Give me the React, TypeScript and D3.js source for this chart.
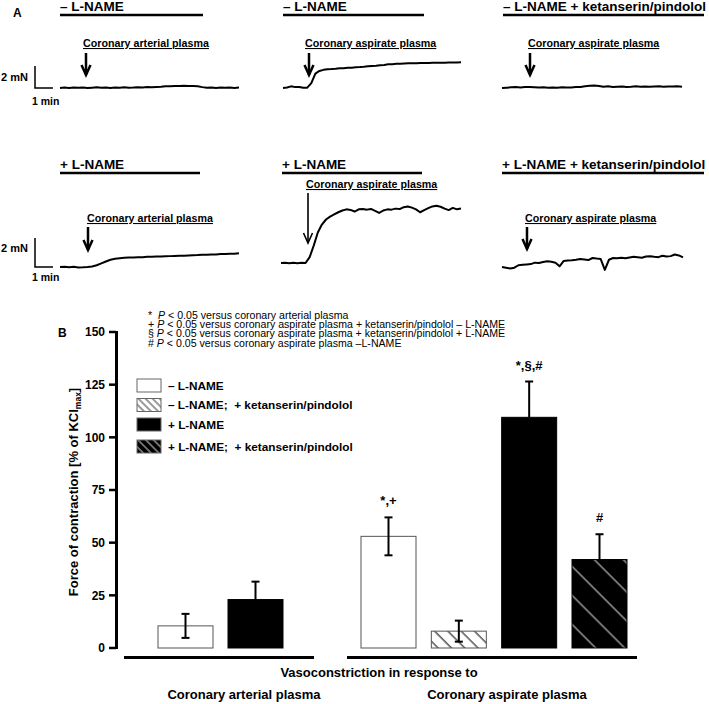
import React from 'react';
import * as d3 from 'd3';

const FONT = '"Liberation Sans", Arial, Helvetica, sans-serif';

// ---------- Panel A: isometric tension traces (mN, relative to start; evenly spaced samples) ----------
const traceMinusArterial = [0, 0.04, 0.01, 0.05, 0.02, 0.04, 0, 0.03, 0.06, 0.02, 0.04, 0.01, 0.05, 0.03, 0.06, 0.02, 0.04, 0.07, 0.05, 0.08, 0.07, 0.1, 0.12, 0.15, 0.17, 0.18, 0.19, 0.2, 0.19, 0.18, 0.16, 0.08, 0.02, 0.05, 0.01, 0.04, 0.02, 0.05, 0.01, 0.04];
const traceMinusAspirate = [0, 0.05, 0.15, 0.08, 0.1, 0.02, 0.03, 0.45, 1.3, 1.55, 1.65, 1.7, 1.72, 1.75, 1.79, 1.8, 1.83, 1.85, 1.88, 1.9, 1.93, 1.97, 2.0, 2.03, 2.07, 2.1, 2.15, 2.17, 2.2, 2.2, 2.22, 2.24, 2.25, 2.26, 2.27, 2.28, 2.27, 2.29, 2.3, 2.29, 2.3, 2.31, 2.32, 2.32, 2.33];
const traceMinusAspirateKP = [0, 0.03, 0.06, 0.08, 0.05, 0.08, 0.1, 0.07, 0.04, 0.06, 0.02, 0.04, 0.03, 0.06, 0.04, 0.05, 0.08, 0.1, 0.15, 0.2, 0.22, 0.18, 0.12, 0.15, 0.1, 0.12, 0.14, 0.1, 0.12, 0.15, 0.12, 0.14, 0.11, 0.13, 0.15, 0.12, 0.14, 0.13, 0.15, 0.12];
const tracePlusArterial = [0, 0.02, -0.02, 0.01, -0.03, -0.02, 0, 0.04, 0.12, 0.25, 0.38, 0.5, 0.57, 0.61, 0.63, 0.65, 0.66, 0.67, 0.68, 0.7, 0.7, 0.72, 0.73, 0.74, 0.75, 0.76, 0.77, 0.78, 0.8, 0.81, 0.82, 0.84, 0.85, 0.87, 0.86, 0.89, 0.9, 0.92, 0.91, 0.94];
const tracePlusAspirate = [0, 0.02, -0.02, 0.01, -0.01, 0.02, 0, 0.4, 1.2, 2.1, 2.65, 3.0, 3.2, 3.35, 3.5, 3.62, 3.7, 3.66, 3.55, 3.7, 3.72, 3.68, 3.73, 3.6, 3.45, 3.62, 3.7, 3.68, 3.75, 3.72, 3.85, 3.9, 3.82, 3.7, 3.5, 3.65, 3.78, 3.9, 3.95, 3.88, 3.75, 3.65, 3.8, 3.7, 3.76];
const tracePlusAspirateKP = [0, -0.05, -0.1, -0.05, 0.12, 0.15, 0.18, 0.2, 0.3, 0.28, 0.34, 0.4, 0.36, 0.3, 0.05, 0.42, 0.45, 0.47, 0.5, 0.55, 0.52, 0.48, 0.62, 0.58, 0.55, -0.2, 0.5, 0.62, 0.6, 0.64, 0.6, 0.66, 0.7, 0.68, 0.64, 0.72, 0.74, 0.7, 0.68, 0.78, 0.72, 0.75, 0.86, 0.8, 0.66];

const panelTitles = ['– L-NAME', '– L-NAME', '– L-NAME + ketanserin/pindolol', '+ L-NAME', '+ L-NAME', '+ L-NAME + ketanserin/pindolol'];
const stimulusLabels = ['Coronary arterial plasma', 'Coronary aspirate plasma', 'Coronary aspirate plasma', 'Coronary arterial plasma', 'Coronary aspirate plasma', 'Coronary aspirate plasma'];
const traces = [traceMinusArterial, traceMinusAspirate, traceMinusAspirateKP, tracePlusArterial, tracePlusAspirate, tracePlusAspirateKP];

// ---------- Panel B: bar chart ----------
const seriesNames = ['– L-NAME', '– L-NAME;\u00A0 + ketanserin/pindolol', '+ L-NAME', '+ L-NAME;\u00A0 + ketanserin/pindolol'];
const arterialSeries = [0, 2];
const arterialMeans = [10.5, 23];
const arterialErrors = [5.7, 8.5];
const aspirateSeries = [0, 1, 2, 3];
const aspirateMeans = [53, 8, 109.5, 42];
const aspirateErrors = [9, 5, 17, 12];
const aspirateMarks = ['*,+', '', '*,§,#', '#'];
const yTicks = [0, 25, 50, 75, 100, 125, 150];
const footnotes = [
  ['*\u00A0 ', ' < 0.05 versus coronary arterial plasma'],
  ['+ ', ' < 0.05 versus coronary aspirate plasma + ketanserin/pindolol – L-NAME'],
  ['§ ', ' < 0.05 versus coronary aspirate plasma + ketanserin/pindolol + L-NAME'],
  ['# ', ' < 0.05 versus coronary aspirate plasma –L-NAME'],
];

// ---------- layout ----------
const panelLayout = [
  { x0: 60, x1: 239, base: 88, scale: 11, tx: 60, tx1: 203, ty: 11, by: 15, lx: 83, ly: 47, ax: 86, ay0: 53, ay1: 75, aw: 2.5 },
  { x0: 283, x1: 461, base: 88, scale: 11, tx: 283, tx1: 424, ty: 11, by: 15, lx: 305, ly: 47, ax: 309, ay0: 53, ay1: 75, aw: 2.5 },
  { x0: 502, x1: 682, base: 88, scale: 11, tx: 503, tx1: 704, ty: 11, by: 15, lx: 528, ly: 47, ax: 530, ay0: 53, ay1: 75, aw: 2.5 },
  { x0: 60, x1: 239, base: 267, scale: 14.5, tx: 60, tx1: 200, ty: 169, by: 173, lx: 87, ly: 222, ax: 88, ay0: 227, ay1: 250, aw: 2.5 },
  { x0: 281, x1: 461, base: 263, scale: 14.5, tx: 282, tx1: 422, ty: 169, by: 173, lx: 306, ly: 188, ax: 308, ay0: 193, ay1: 243, aw: 1.6 },
  { x0: 502, x1: 683, base: 267, scale: 14.5, tx: 502, tx1: 704, ty: 169, by: 173, lx: 525, ly: 222, ax: 527, ay0: 227, ay1: 249, aw: 2.5 },
];

const fills = ['#fff', 'url(#hatchW)', '#000', 'url(#hatchB)'];
const legendFills = ['#fff', 'url(#hatchWL)', '#000', 'url(#hatchBL)'];

function Trace({ data, L }: { data: number[]; L: any }) {
  const x = d3.scaleLinear().domain([0, data.length - 1]).range([L.x0, L.x1]);
  const y = d3.scaleLinear().domain([0, 1]).range([L.base, L.base - L.scale]);
  const line = d3.line<number>().x((_, i) => x(i)).y(d => y(d));
  return <path d={line(data) || ''} fill="none" stroke="#000" strokeWidth={2} strokeLinejoin="round" />;
}

function Panel({ i }: { i: number }) {
  const L = panelLayout[i];
  return (
    <g>
      <text x={L.tx} y={L.ty} fontSize={13.5} fontWeight="bold">{panelTitles[i]}</text>
      <line x1={L.tx} x2={L.tx1} y1={L.by} y2={L.by} stroke="#000" strokeWidth={2.5} />
      <text x={L.lx} y={L.ly} fontSize={10.7} fontWeight="bold" style={{ textDecoration: 'underline' }}>{stimulusLabels[i]}</text>
      <line x1={L.ax} x2={L.ax} y1={L.ay0} y2={L.ay1} stroke="#000" strokeWidth={L.aw} />
      <path d={`M${L.ax - 4.5},${L.ay1 - 10}L${L.ax},${L.ay1}L${L.ax + 4.5},${L.ay1 - 10}`} fill="none" stroke="#000" strokeWidth={L.aw} />
      <Trace data={traces[i]} L={L} />
    </g>
  );
}

export default function App() {
  const y = d3.scaleLinear().domain([0, 150]).range([648, 332]);
  const xArt = d3.scaleLinear().domain([0, 1]).range([158, 228]);
  const xAsp = d3.scaleLinear().domain([0, 3]).range([361, 572]);
  const bw = 55;
  const cap = 4;

  const bars = (means: number[], errs: number[], series: number[], xs: d3.ScaleLinear<number, number>, marks?: string[]) =>
    means.map((m, k) => {
      const s = series[k];
      const left = xs(k);
      const cx = left + bw / 2;
      const top = y(m);
      const eTop = y(m + errs[k]);
      const eBot = y(m - errs[k]);
      const whiteFill = s === 0 || s === 1;
      return (
        <g key={k}>
          <rect x={left} y={top} width={bw} height={y(0) - top} fill={fills[s]} stroke={s >= 2 ? '#000' : '#555'} strokeWidth={1} />
          <line x1={cx} x2={cx} y1={eTop} y2={whiteFill ? eBot : top} stroke="#000" strokeWidth={2} />
          <line x1={cx - cap} x2={cx + cap} y1={eTop} y2={eTop} stroke="#000" strokeWidth={2} />
          {whiteFill && <line x1={cx - cap} x2={cx + cap} y1={eBot} y2={eBot} stroke="#000" strokeWidth={2} />}
          {marks && marks[k] && (
            <text x={cx} y={eTop - 12} textAnchor="middle" fontSize={13} fontWeight="bold">{marks[k]}</text>
          )}
        </g>
      );
    });

  return (
    <svg width={709} height={704} style={{ position: 'absolute', left: 0, top: 0, background: '#fff' }} fontFamily={FONT}>
      <defs>
        <pattern id="hatchW" patternUnits="userSpaceOnUse" width={9.4} height={9.4} patternTransform="rotate(-45)">
          <rect width={9.4} height={9.4} fill="#fff" />
          <line x1={2} x2={2} y1={0} y2={9.4} stroke="#000" strokeWidth={1} />
        </pattern>
        <pattern id="hatchB" patternUnits="userSpaceOnUse" width={20.5} height={20.5} patternTransform="rotate(-45)">
          <rect width={20.5} height={20.5} fill="#000" />
          <line x1={4} x2={4} y1={0} y2={20.5} stroke="#ddd" strokeWidth={1} />
        </pattern>
        <pattern id="hatchWL" patternUnits="userSpaceOnUse" width={5} height={5} patternTransform="rotate(-45)">
          <rect width={5} height={5} fill="#fff" />
          <line x1={1} x2={1} y1={0} y2={5} stroke="#000" strokeWidth={0.8} />
        </pattern>
        <pattern id="hatchBL" patternUnits="userSpaceOnUse" width={5.5} height={5.5} patternTransform="rotate(-45)">
          <rect width={5.5} height={5.5} fill="#000" />
          <line x1={1} x2={1} y1={0} y2={5.5} stroke="#eee" strokeWidth={0.9} />
        </pattern>
      </defs>

      {/* Panel A */}
      <text x={13} y={17} fontSize={12} fontWeight="bold">A</text>
      {panelLayout.map((_, i) => <Panel key={i} i={i} />)}
      {/* scale bars */}
      {[{ top: 66, bot: 88, t1: 81, t2: 105 }, { top: 238, bot: 267, t1: 252, t2: 281 }].map((s, i) => (
        <g key={i}>
          <path d={`M35,${s.top}V${s.bot}H53`} fill="none" stroke="#000" strokeWidth={1.5} />
          <text x={1} y={s.t1} fontSize={11} fontWeight="bold">2 mN</text>
          <text x={32} y={s.t2} fontSize={10.5} fontWeight="bold">1 min</text>
        </g>
      ))}

      {/* Panel B */}
      <text x={58} y={337} fontSize={12} fontWeight="bold">B</text>
      {footnotes.map((f, i) => (
        <text key={i} x={148} y={318.5 + i * 9.4} fontSize={10.6}>
          {f[0]}<tspan fontStyle="italic">P</tspan>{f[1]}
        </text>
      ))}

      {/* y axis */}
      <line x1={116.5} x2={116.5} y1={y(150) - 1} y2={y(0) + 1} stroke="#000" strokeWidth={3} />
      {yTicks.map(t => (
        <g key={t}>
          <line x1={109} x2={116} y1={y(t)} y2={y(t)} stroke="#000" strokeWidth={2.5} />
          <text x={105} y={y(t) + 4.2} textAnchor="end" fontSize={12} fontWeight="bold">{t}</text>
        </g>
      ))}
      <text transform="translate(78,492) rotate(-90)" textAnchor="middle" fontSize={13} fontWeight="bold">
        Force of contraction [% of KCl<tspan fontSize={8.5} dy={3}>max</tspan><tspan dy={-3}>]</tspan>
      </text>

      {/* legend */}
      {seriesNames.map((n, i) => {
        const tops = [379, 398.5, 418, 440];
        return (
          <g key={i}>
            <rect x={137} y={tops[i]} width={24} height={13} fill={legendFills[i]} stroke="#666" strokeWidth={1} />
            <text x={168} y={tops[i] + 10.5} fontSize={11.8} fontWeight="bold">{n}</text>
          </g>
        );
      })}

      {/* bars */}
      {bars(arterialMeans, arterialErrors, arterialSeries, xArt)}
      {bars(aspirateMeans, aspirateErrors, aspirateSeries, xAsp, aspirateMarks)}

      {/* group baselines */}
      <line x1={124} x2={314} y1={657.5} y2={657.5} stroke="#000" strokeWidth={3} />
      <line x1={347} x2={637} y1={657.5} y2={657.5} stroke="#000" strokeWidth={3} />

      <text x={379} y={677} textAnchor="middle" fontSize={13} fontWeight="bold">Vasoconstriction in response to</text>
      <text x={244} y={699} textAnchor="middle" fontSize={13} fontWeight="bold">Coronary arterial plasma</text>
      <text x={507} y={699} textAnchor="middle" fontSize={13} fontWeight="bold">Coronary aspirate plasma</text>
    </svg>
  );
}
